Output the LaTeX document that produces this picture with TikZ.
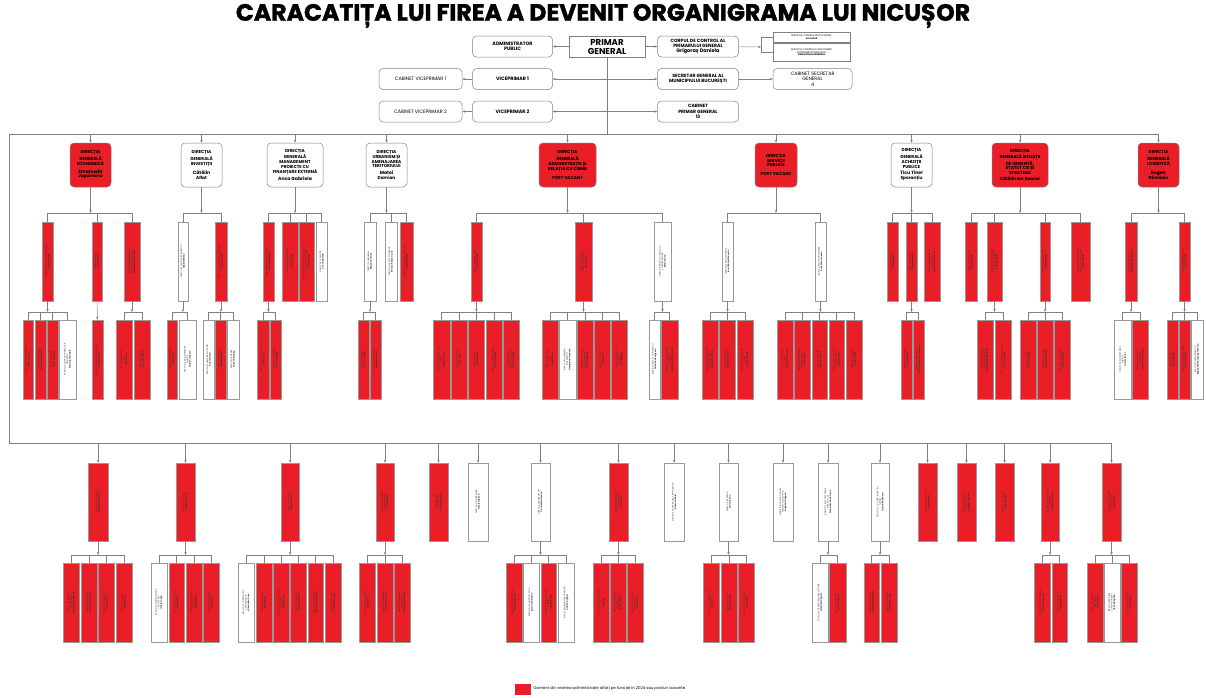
\documentclass[tikz,border=0pt]{standalone}
\usepackage{fontspec}
\setmainfont{Poppins}
\newfontfamily\titlefont{Poppins}[BoldFeatures={FakeBold=1.5}]
\usetikzlibrary{arrows.meta,positioning}
\definecolor{rd}{RGB}{234,30,38}
\definecolor{wh}{RGB}{255,255,255}
\definecolor{orgline}{RGB}{128,128,128}
\tikzset{%
  myedge/.style={-{Stealth[length=3pt,width=2.4pt]}, draw=orgline, line width=0.5pt},
  mylink/.style={draw=orgline, line width=0.5pt},
  topnode/.style={rounded corners=4pt, draw=orgline, line width=0.5pt, fill=white,
    minimum width=80pt, minimum height=21pt, align=center, inner sep=0.5pt,
    font=\fontsize{4.8}{5.4}\selectfont},
  dirnode/.style={rounded corners=4pt, draw=orgline, line width=0.5pt,
    minimum height=44pt, align=center, inner sep=0.5pt,
    font=\bfseries\fontsize{4.3}{4.9}\selectfont},
  subnode/.style={draw=orgline!80, line width=0.35pt, minimum height=79pt, inner sep=0pt}
}
% vertical text of the narrow boxes
\newcommand\vlabel[1]{\rotatebox{90}{\parbox{70pt}{\centering\fontsize{2.1}{2.5}\selectfont\color{black!80} #1}}}
% one row of narrow boxes under a parent: parent, prefix, branch y, box y, list
\newcommand\orgrow[5]{%
  \draw[myedge] (#1.south) -- (#1.south |- 0,#3);
  \foreach \xa/\xb/\fc/\txt [count=\k] in {#5}{
    \node[subnode, fill=\fc, minimum width={(\xb-\xa)*1pt}] (#2\k) at ({(\xa+\xb)/2},#4) {\vlabel{\txt}};
    \draw[mylink] (#2\k.north) -- (#2\k.north |- 0,#3);
    \draw[mylink] (#21.north |- 0,#3) -- (#2\k.north |- 0,#3);
  }
}

\begin{document}
\begin{tikzpicture}[x=1pt,y=-1pt]
  \fill[white] (0,0) rectangle (1206,697);
  \useasboundingbox (0,0) rectangle (1206,697);

  \node[font=\titlefont\bfseries\fontsize{23.6}{25}\selectfont] (title) at (603,16) {CARACATIȚA LUI FIREA A DEVENIT ORGANIGRAMA LUI NICUȘOR};

  % top of the chart
  \node[draw=orgline, line width=0.5pt, minimum width=76pt, minimum height=21pt, align=center, inner sep=0pt,
    font=\bfseries\fontsize{8.6}{9}\selectfont] (primar) at (607,46.5) {PRIMAR\\GENERAL};
  \node[topnode, font=\bfseries\fontsize{4.8}{5.4}\selectfont, left=16pt of primar] (admin) {ADMINISTRATOR\\PUBLIC};
  \node[topnode, minimum width=81pt, font=\bfseries\fontsize{4.6}{5.2}\selectfont, right=12pt of primar] (corp) {CORPUL DE CONTROL AL\\PRIMARULUI GENERAL\\\fontsize{5}{5.6}\selectfont Grigoraș Daniela};
  \node[draw=orgline, line width=0.4pt, minimum width=77pt, minimum height=10pt, align=center, inner sep=0pt,
    font=\fontsize{2.4}{2.9}\selectfont] (svc1) at (811.5,37) {SERVICIUL CONTROL INSTITUȚIONAL\\\textbf{Ion Jarcă}};
  \node[draw=orgline, line width=0.4pt, minimum width=77pt, minimum height=18pt, align=center, inner sep=0pt,
    font=\fontsize{2.4}{2.9}\selectfont] (svc2) at (811.5,52) {SERVICIUL CONTROLUL GESTIONĂRII\\DISTRIBUIRII FONDURILOR\\\textbf{Deica Elvena Gabriela}};
  \node[topnode, font=\bfseries\fontsize{4.8}{5.4}\selectfont, below=11pt of admin] (vp1) {VICEPRIMAR 1};
  \node[topnode, font=\bfseries\fontsize{4.8}{5.4}\selectfont, below=11pt of vp1] (vp2) {VICEPRIMAR 2};
  \node[topnode, minimum width=83pt, left=10pt of vp1] (cabvp1) {CABINET VICEPRIMAR 1};
  \node[topnode, minimum width=83pt, left=10pt of vp2] (cabvp2) {CABINET VICEPRIMAR 2};
  \node[topnode, minimum width=81pt, font=\bfseries\fontsize{4.6}{5.2}\selectfont, below=11pt of corp] (secgen) {SECRETAR GENERAL AL\\MUNICIPIULUI BUCUREȘTI};
  \node[topnode, minimum width=81pt, font=\bfseries\fontsize{4.6}{5.2}\selectfont, below=11pt of secgen] (cabpg) {CABINET\\PRIMAR GENERAL\\13};
  \node[topnode, minimum width=79pt, right=34pt of secgen] (cabsec) {CABINET SECRETAR\\GENERAL\\4};

  \coordinate (br) at (761,47);
  \draw[myedge] (primar) -- (admin);
  \draw[myedge] (primar) -- (corp);
  \draw[myedge] (corp) -- (br);
  \draw[mylink] (svc1.west) -| (br) |- (svc2.west);
  \draw[myedge] (vp1) -- (cabvp1);
  \draw[myedge] (vp2) -- (cabvp2);
  \draw[myedge] (secgen) -- (cabsec);
  \draw[myedge, {Stealth[length=3pt,width=2.4pt]}-{Stealth[length=3pt,width=2.4pt]}] (vp1) -- (secgen);
  \draw[myedge, {Stealth[length=3pt,width=2.4pt]}-{Stealth[length=3pt,width=2.4pt]}] (vp2) -- (cabpg);

  % general directions
  \coordinate (lt) at (9,134);
  \coordinate (lb) at (9,443);
  \draw[mylink] (primar.south) -- (primar.south |- lt);
  \foreach \xa/\xb/\fc/\txt [count=\k] in {
    70/111/rd/{DIRECȚIA\\GENERALĂ\\ECONOMICĂ\\[3pt]\fontsize{4.6}{5.1}\selectfont Emanuela\\Jugureanu},
    181/222/wh/{DIRECȚIA\\GENERALĂ\\INVESTIȚII\\[3pt]\fontsize{4.6}{5.1}\selectfont Cătălin\\Aflat},
    267/323/wh/{DIRECȚIA\\GENERALĂ\\MANAGEMENT\\PROIECTE CU\\FINANȚARE EXTERNĂ\\[1pt]\fontsize{4.6}{5.1}\selectfont Anca Gabriela},
    366/407/wh/{DIRECȚIA\\URBANISM ȘI\\AMENAJAREA\\TERITORIULUI\\[2pt]\fontsize{4.6}{5.1}\selectfont Matei\\Damian},
    539/596/rd/{DIRECȚIA\\GENERALĂ\\ADMINISTRAȚIE ȘI\\RELAȚIA CU CGMB\\[4pt]POST VACANT},
    755/797/rd/{DIRECȚIA\\SERVICII\\PUBLICE\\[4pt]POST VACANT},
    891/932/wh/{DIRECȚIA\\GENERALĂ\\ACHIZIȚII\\PUBLICE\\[2pt]\fontsize{4.6}{5.1}\selectfont Ticu Tinel\\Sporanțiu},
    992/1048/rd/{DIRECȚIA\\GENERALĂ SITUAȚII\\DE URGENȚĂ,\\STATUT CG ȘI\\STRATEGII\\[1pt]Cătălin Ion Soacor},
    1138/1179/rd/{DIRECȚIA\\GENERALĂ\\LOGISTICĂ\\[4pt]\fontsize{4.6}{5.1}\selectfont Eugen\\Dăvidoiu}}{
    \node[dirnode, fill=\fc, minimum width={(\xb-\xa)*1pt}] (d\k) at ({(\xa+\xb)/2},165) {\txt};
    \draw[myedge] (d\k |- lt) -- (d\k);
  }
  \draw[mylink] (d9 |- lt) -- (lt) -- (lb);

  \orgrow{d1}{d1s}{213}{261.5}{42/53/rd/{DIRECȚIA FINANCIAR CONTABILĂ\\\textbf{POST VACANT}},
    92/102/rd/{DIRECȚIA BUGET\\\textbf{Lenuța Bănică}},
    124/140/rd/{DIRECȚIA PROGRAMARE ȘI\\EXECUȚIE BUGETARĂ\\\textbf{Elena Gabriela Costea}}}
  \orgrow{d2}{d2s}{213}{261.5}{178/188/wh/{DIRECȚIA PLANIFICARE INVESTIȚII\\\textbf{Adăbilă Mihai}},
    215/227/rd/{DIRECȚIA PROGRAMARE INVESTIȚII\\\textbf{POST VACANT}}}
  \orgrow{d3}{d3s}{213}{261.5}{263/274/rd/{DIRECȚIA DEZVOLTARE PROIECTE\\\textbf{Elena Maria Lupu}},
    282/298/rd/{SERVICIUL IMPLEMENTARE\\PROIECTE\\\textbf{POST VACANT}},
    299/314/rd/{SERVICIUL MONITORIZARE PROIECTE\\CU FINANȚARE EXTERNĂ\\\textbf{Rodica Haneș}},
    316/327/wh/{SERVICIUL LOGISTICĂ\\\textbf{Cristina Boldă}}}
  \orgrow{d4}{d4s}{213}{261.5}{364/376/wh/{DIRECȚIA URBANISM\\\textbf{Bogdan Ciliciuc}},
    385/397/wh/{SERVICIUL PROIECTE URBANE\\\textbf{Mircea Răzvan Ivan}},
    400/413/rd/{DIRECȚIA AMENAJARE TERITORIU\\\textbf{POST VACANT}}}
  \orgrow{d5}{d5s}{213}{261.5}{471/482/rd/{DIRECȚIA ADMINISTRATIV\\\textbf{POST VACANT}},
    575/592/rd/{DIRECȚIA RELAȚIA CU\\CONSILIUL GENERAL\\\textbf{Marius Rusu}},
    654/671/wh/{DIRECȚIA RELAȚII CU PUBLICUL\\ȘI REGISTRATURĂ\\\textbf{Remus Dinu}}}
  \orgrow{d6}{d6s}{213}{261.5}{722/733/wh/{DIRECȚIA SERVICII PUBLICE\\\textbf{Ionuț Daniel Mocanu}},
    815/826/wh/{DIRECȚIA SERVICII INTEGRATE\\\textbf{Ruxandra Ionescu}}}
  \orgrow{d7}{d7s}{213}{261.5}{887/898/rd/{DIRECȚIA ACHIZIȚII\\\textbf{Adrian Petcu}},
    906/917/rd/{DIRECȚIA LICITAȚII\\\textbf{Dragoș Enache}},
    924/940/rd/{DIRECȚIA MONITORIZARE\\CONTRACTE\\\textbf{Mihaela Constantin}}}
  \orgrow{d8}{d8s}{213}{261.5}{965/977/rd/{SERVICIUL STRATEGII\\\textbf{POST VACANT}},
    987/1002/rd/{DIRECȚIA MANAGEMENT\\SITUAȚII DE URGENȚĂ\\\textbf{POST VACANT}},
    1040/1050/rd/{DIRECȚIA STATUT CG\\\textbf{Cristina Mațe}},
    1071/1090/rd/{DIRECȚIA MONITORIZARE\\STRATEGII ȘI PROGRAME\\\textbf{POST VACANT}}}
  \orgrow{d9}{d9s}{213}{261.5}{1125/1137/rd/{DIRECȚIA PATRIMONIU\\\textbf{Cătălin Emanuel Frone}},
    1179/1190/rd/{DIRECȚIA ADMINISTRATIV\\\textbf{POST VACANT}}}

  % services under the directions
  \orgrow{d1s1}{d1s1c}{312}{359.5}{23/33/rd/{SERVICIUL CONTABILITATE\\\textbf{Marius Iancu}},
    35/46/rd/{SERVICIUL FINANCIAR\\\textbf{Roxana Gheorghiu}},
    47/58/rd/{SERVICIUL PLĂȚI\\\textbf{Victor Iordache}},
    59/76/wh/{SERVICIUL CONTROL FINANCIAR\\PREVENTIV\\\textbf{Diana Ionela Odă}}}
  \node[subnode, fill=rd, minimum width=11pt] (d1s2c1) at (97.5,359.5) {\vlabel{SERVICIUL EXECUȚIE BUGETARĂ\\\textbf{Viorel Ionescu}}};
  \draw[myedge] (d1s2) -- (d1s2c1);
  \orgrow{d1s3}{d1s3c}{312}{359.5}{116/132/rd/{SERVICIUL IMPOZITE\\ȘI TAXE\\\textbf{Ana Iordan}},
    134/150/rd/{SERVICIUL VENITURI\\\textbf{Ionuț Stănescu}}}
  \orgrow{d2s1}{d2s1c}{312}{359.5}{167/177/rd/{SERVICIUL PLANIFICARE\\\textbf{Dana Radu}},
    179/196/wh/{SERVICIUL DOCUMENTARE\\TEHNICĂ\\\textbf{Cătălin Ionescu}}}
  \orgrow{d2s2}{d2s2c}{312}{359.5}{203/214/wh/{SERVICIUL URMĂRIRE LUCRĂRI\\\textbf{Paul Cristea}},
    215/226/rd/{SERVICIUL RECEPȚIE\\\textbf{Mihaela Popa}},
    227/239/wh/{SERVICIUL AVIZARE\\\textbf{Valentin Neagu}}}
  \orgrow{d3s1}{d3s1c}{312}{359.5}{257/269/rd/{SERVICIUL PROIECTE NOI\\\textbf{Adrian Ene}},
    270/281/rd/{SERVICIUL FINANȚĂRI\\\textbf{POST VACANT}}}
  \orgrow{d4s1}{d4s1c}{312}{359.5}{358/369/rd/{SERVICIUL AVIZE\\\textbf{POST VACANT}},
    370/381/rd/{SERVICIUL CERTIFICATE\\\textbf{Elena Marinescu}}}
  \orgrow{d5s1}{d5s1c}{312}{359.5}{433/450/rd/{SERVICIUL ADMINISTRARE\\SEDII\\\textbf{Dragoș Istrate}},
    451/467/rd/{SERVICIUL LOGISTIC\\\textbf{Cornel Leu}},
    468/484/rd/{BIROUL ARHIVĂ\\\textbf{Ionel Dobrin}},
    486/502/rd/{SERVICIUL MENTENANȚĂ\\\textbf{POST VACANT}},
    503/519/rd/{COMPARTIMENT\\PROTECȚIA MUNCII\\\textbf{POST VACANT}}}
  \orgrow{d5s2}{d5s2c}{312}{359.5}{542/558/rd/{SERVICIUL SEDINȚE\\CGMB\\\textbf{Teodor Barbu}},
    559/576/wh/{BIROUL PROGRAMARE\\ȘI DEZBATERI\\\textbf{Georgiana Iordache}},
    577/593/rd/{SERVICIUL AVIZARE\\ACTE NORMATIVE\\\textbf{POST VACANT}},
    594/610/rd/{SERVICIUL COMISII\\\textbf{Camelia Ilie}},
    611/627/rd/{SERVICIUL EVIDENȚĂ\\HOTĂRÂRI\\\textbf{Doru Nicolae}}}
  \orgrow{d5s3}{d5s3c}{312}{359.5}{649/660/wh/{SERVICIUL RELAȚII CU PUBLICUL\\\textbf{Orlando Georgescu}},
    661/678/rd/{SERVICIUL REGISTRATURĂ\\GENERALĂ\\\textbf{Gabriel Ionel Bărbulescu}}}
  \orgrow{d6s1}{d6s1c}{312}{359.5}{702/718/rd/{SERVICIUL MONITORIZARE\\SERVICII PUBLICE\\\textbf{Magdalena Rusu}},
    719/735/rd/{SERVICIUL SALUBRITATE\\\textbf{Valentin Ulmeni}},
    737/753/rd/{SERVICIUL ALIMENTARE\\CU APĂ\\\textbf{POST VACANT}}}
  \orgrow{d6s2}{d6s2c}{312}{359.5}{777/793/rd/{SERVICIUL ILUMINAT\\PUBLIC\\\textbf{Laurențiu Ionescu}},
    794/810/rd/{SERVICIUL TRANSPORT\\ENERGIE TERMICĂ\\\textbf{Nicolae Ursu}},
    812/827/rd/{SERVICIUL CIMITIRE\\\textbf{Marius Ionescu}},
    829/844/rd/{SERVICIUL SPAȚII VERZI\\ȘI PARCURI\\\textbf{Cristina Dinu}},
    846/862/rd/{SERVICIUL DEȘEURI\\\textbf{Cristina Ghiță}}}
  \orgrow{d7s2}{d7s2c}{312}{359.5}{901/912/rd/{SERVICIUL LICITAȚII\\\textbf{Sorin Manea}},
    913/924/rd/{SERVICIUL CONTRACTE\\\textbf{Doina Alexandra Costache}}}
  \orgrow{d8s2}{d8s2c}{312}{359.5}{977/993/rd/{SERVICIUL PREVENIRE\\SITUAȚII DE URGENȚĂ\\\textbf{Gabriel Mihail Bogdan}},
    995/1011/rd/{SERVICIUL PROTECȚIE CIVILĂ\\\textbf{POST VACANT}}}
  \orgrow{d8s3}{d8s3c}{312}{359.5}{1020/1036/rd/{SERVICIUL STATUT\\\textbf{POST VACANT}},
    1037/1053/rd/{SERVICIUL AVIZARE\\\textbf{Adina Ionela Vlad}},
    1054/1070/rd/{SERVICIUL SECRETARIAT\\\textbf{POST VACANT}}}
  \orgrow{d9s1}{d9s1c}{312}{359.5}{1114/1131/wh/{SERVICIUL ADMINISTRARE\\IMOBILE\\\textbf{Ovidiu Peter}},
    1132/1148/rd/{SERVICIUL INVENTAR\\ȘI GESTIUNE\\\textbf{Ionut Nicusor Vasile}}}
  \orgrow{d9s2}{d9s2c}{312}{359.5}{1167/1178/rd/{SERVICIUL AUTO\\\textbf{Ion Iordache}},
    1179/1190/rd/{SERVICIUL APROVIZIONARE\\\textbf{POST VACANT}},
    1191/1203/wh/{SERVICIUL ADMINISTRATIV\\\textbf{Bogdan Mihai Dragomirescu}}}

  % directions under the general mayor
  \foreach \xa/\xb/\fc/\txt [count=\k] in {
    88/108/rd/{SERVICIUL PATRIMONIU\\\textbf{Mihaela Pârvulescu}},
    176/195/rd/{DIRECȚIA DE MEDIU\\\textbf{Cristina Ionescu}},
    281/299/rd/{DIRECȚIA JURIDICĂ\\\textbf{Adrian Ionescu}},
    376/394/rd/{DIRECȚIA MANAGEMENT\\RESURSE UMANE\\\textbf{Doina Neagu}},
    429/448/rd/{DIRECȚIA AUDIT\\PUBLIC INTERN\\\textbf{Alexandru Stoica}},
    468/488/wh/{DIRECȚIA DE IMOBILIARE\\\textbf{Nicoleta Birsă}},
    531/550/wh/{DIRECȚIA TRANSPORTURI\\\textbf{Victor Moldoveanu}},
    609/628/rd/{DIRECȚIA INFORMATICĂ\\ȘI E-GUVERNARE\\\textbf{Liviu Dinu}},
    664/684/wh/{DIRECȚIA GUVERNANȚĂ CORPORATIVĂ\\\textbf{Ramona Bota}},
    719/738/wh/{DIRECȚIA DE PRESĂ\\\textbf{Diana Ioanu}},
    773/793/wh/{DIRECȚIA DE LUPTĂ CONTRA\\FRAUDEI ȘI CORUPȚIEI\\\textbf{Bogdan Dragnea}},
    818/838/wh/{SERVICIUL RELAȚII EXTERNE\\ȘI PROTOCOL\\\textbf{Diana Roxana Ciocan}},
    871/889/wh/{SERVICIUL CULTURĂ, INVESTIȚII,\\TURISM\\\textbf{Liliana Radbosca}},
    918/937/rd/{SERVICIUL PUBLIC 112\\\textbf{Viorel Buzatu}},
    957/976/rd/{SERVICIUL RELAȚII CU\\ORGANIZAȚIILE\\\textbf{Bogdan Popescu}},
    995/1014/rd/{SERVICIUL CONSILIERE\\\textbf{POST VACANT}},
    1041/1059/rd/{DIRECȚIA MONITORIZARE\\ȘI CONTROL\\\textbf{Carmen Iordache}},
    1102/1121/rd/{DIRECȚIA DE EVIDENȚĂ\\A PERSOANELOR\\\textbf{Liliana Nica}}}{
    \node[subnode, minimum height=78pt, fill=\fc, minimum width={(\xb-\xa)*1pt}] (b\k) at ({(\xa+\xb)/2},502) {\vlabel{\txt}};
    \draw[myedge] (b\k |- lb) -- (b\k);
  }
  \draw[mylink] (lb) -- (b18 |- lb);

  \orgrow{b1}{b1c}{555}{602.5}{63/79/rd/{SERVICIUL EVIDENȚĂ\\PATRIMONIU\\\textbf{Daniela Elena Marin}},
    81/97/rd/{SERVICIUL CADASTRU\\\textbf{Doru Dragoș Pavel}},
    98/114/rd/{SERVICIUL CONCESIUNI\\\textbf{Cristian Vlad}},
    116/132/rd/{BIROUL INVENTAR\\\textbf{Vasile Radu}}}
  \orgrow{b2}{b2c}{555}{602.5}{151/167/wh/{SERVICIUL MONITORIZARE\\CALITATE AER\\\textbf{Ionela Lungu}},
    169/184/rd/{SERVICIUL SPAȚII VERZI\\\textbf{Cristian Stan}},
    186/202/rd/{SERVICIUL PROTECȚIA\\MEDIULUI\\\textbf{Ionuț Mihăilă}},
    203/219/rd/{SERVICIUL ZGOMOT\\\textbf{Liviu Nistor}}}
  \orgrow{b3}{b3c}{555}{602.5}{238/254/wh/{SERVICIUL CONTENCIOS\\ADMINISTRATIV\\\textbf{Alexandru Rusu}},
    256/272/rd/{SERVICIUL AVIZARE\\\textbf{Elena Bucur}},
    273/289/rd/{SERVICIUL CONSULTANȚĂ\\JURIDICĂ\\\textbf{Emil Roman}},
    290/306/rd/{SERVICIUL LEGISLAȚIE\\\textbf{Marian Ionescu}},
    308/323/rd/{SERVICIUL CONTRACTE\\\textbf{Mihaela Costache}},
    325/341/rd/{SERVICIUL EXECUTĂRI\\\textbf{Ecaterina Lungu}}}
  \orgrow{b4}{b4c}{555}{602.5}{359/375/rd/{SERVICIUL RECRUTARE\\\textbf{Gina Radu}},
    377/393/rd/{SERVICIUL SALARIZARE\\\textbf{Daniela Popescu}},
    394/410/rd/{SERVICIUL FORMARE\\PROFESIONALĂ\\\textbf{Mihaela Constantin}}}
  \orgrow{b7}{b7c}{555}{602.5}{506/522/rd/{SERVICIUL SEMAFORIZARE\\\textbf{Alina Moldovan}},
    523/539/wh/{SERVICIUL TRANSPORT AUTO\\\textbf{Diana Ardeleanu}},
    541/556/rd/{SERVICIUL MONITORIZARE\\TRAFIC\\\textbf{Cristian Barbu}},
    558/574/wh/{BIROUL REGLEMENTARE PARCĂRI\\\textbf{Adrian Anghel}}}
  \orgrow{b8}{b8c}{555}{602.5}{593/609/rd/{SERVICIUL INFRASTRUCTURĂ\\IT\\\textbf{Ana Rizu}},
    610/626/rd/{SERVICIUL APLICAȚII\\INFORMATICE\\\textbf{Radu Silaghi}},
    627/643/rd/{SERVICIUL SECURITATE\\CIBERNETICĂ\\\textbf{Florin Matei}}}
  \orgrow{b10}{b10c}{555}{602.5}{703/719/rd/{SERVICIUL COMUNICARE\\\textbf{Ana Ilinca}},
    721/737/rd/{SERVICIUL PRESĂ\\\textbf{Bogdan Sandu}},
    738/754/rd/{SERVICIUL EVENIMENTE\\\textbf{Ioan Dobrin}}}
  \orgrow{b12}{b12c}{555}{602.5}{812/828/wh/{SERVICIUL DE REPREZENTARE EXTERNĂ\\\textbf{Loredana Grigore}},
    829/846/rd/{SERVICIUL PROTOCOL\\\textbf{Dorina Cojocaru}}}
  \orgrow{b13}{b13c}{555}{602.5}{864/879/rd/{SERVICIUL CULTURĂ\\\textbf{Andreea Manolache}},
    881/897/rd/{SERVICIUL TURISM\\\textbf{Cătălina Bordea}}}
  \orgrow{b17}{b17c}{555}{602.5}{1034/1050/rd/{SERVICIUL MONITORIZARE\\\textbf{Roxana Ionescu}},
    1052/1067/rd/{SERVICIUL CONTROL\\\textbf{Gabriela Dinu}}}
  \orgrow{b18}{b18c}{555}{602.5}{1087/1103/rd/{SERVICIUL EVIDENȚĂ\\PERSOANE\\\textbf{Ana Cristea}},
    1104/1120/wh/{BIROUL VERIFICARE\\ȘI MONITORIZARE\\\textbf{Ileana Begnea}},
    1121/1137/rd/{SERVICIUL STARE CIVILĂ\\\textbf{George Ursu}}}

  % legend
  \node[fill=rd, minimum width=16pt, minimum height=11pt, inner sep=0pt] (leg) at (523,689) {};
  \node[right=2pt of leg, inner sep=0pt, font=\fontsize{3.9}{4.4}\selectfont] (legtext) {Oameni din vechea administrație aflați pe funcție în 2024 sau posturi vacante.};
\end{tikzpicture}
\end{document}
